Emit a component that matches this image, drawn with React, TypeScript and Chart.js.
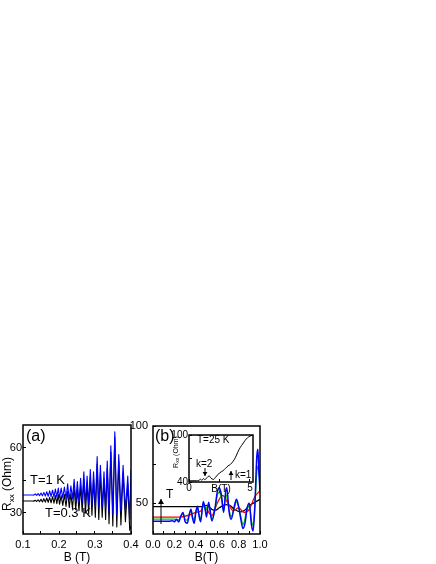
import React, { useEffect, useRef } from "react";
import { Chart, registerables } from "chart.js";
Chart.register(...registerables);

// ---------- Panel (a) data ----------
const aB = [0.100, 0.128,
  0.130, 0.134, 0.138, 0.142, 0.146, 0.150, 0.154, 0.158, 0.162, 0.166, 0.170, 0.174, 0.178, 0.182, 0.186, 0.190, 0.194, 0.198, 0.2015,
  0.2060, 0.2105, 0.2150, 0.2195, 0.2240, 0.2285, 0.2330, 0.2375, 0.2420, 0.2465, 0.2510, 0.2555, 0.2600, 0.2645, 0.2690, 0.2735,
  0.2780, 0.2825, 0.2870, 0.2915, 0.2960, 0.3010, 0.3060, 0.3105, 0.3150, 0.3200, 0.3250, 0.3295, 0.3340, 0.3390, 0.3440, 0.3495,
  0.3550, 0.3605, 0.3660, 0.3720, 0.3780, 0.3845, 0.3910, 0.3965, 0.4000];
const aBlue = [38.3, 38.3,
  38.2, 38.8, 38.1, 39.0, 38.0, 39.2, 37.9, 39.5, 37.8, 39.8, 37.7, 40.2, 37.6, 40.5, 37.4, 41.0, 37.3, 41.5, 37.0,
  41.5, 37.0, 42.0, 36.5, 43.5, 36.0, 42.5, 36.5, 45.5, 35.5, 44.5, 35.0, 46.0, 35.0, 49.0, 34.0,
  47.0, 34.0, 50.0, 33.5, 49.0, 33.0, 56.0, 32.5, 52.0, 33.0, 49.0, 32.0, 54.0, 30.0, 61.0, 29.5,
  67.5, 29.0, 57.0, 31.0, 52.0, 31.5, 47.0, 27.0, 50.0];
const aBlack = [35.5, 35.5,
  35.4, 35.9, 35.3, 36.1, 35.2, 36.3, 35.1, 36.6, 35.0, 36.9, 34.9, 37.2, 34.7, 37.5, 34.5, 38.0, 34.3, 38.5, 34.0,
  38.0, 33.5, 38.5, 33.0, 40.0, 32.5, 39.0, 32.0, 42.0, 31.5, 41.0, 31.0, 42.5, 30.5, 45.5, 30.0,
  43.5, 29.5, 46.5, 29.0, 45.5, 28.0, 52.5, 27.0, 48.5, 28.0, 45.5, 27.0, 50.5, 25.0, 58.0, 24.0,
  65.0, 23.5, 54.0, 24.5, 48.5, 26.0, 43.5, 22.0, 24.0];
const aXTicks = [0.1, 0.15, 0.2, 0.25, 0.3, 0.35, 0.4];
const aXLabels = ["0.1", "", "0.2", "", "0.3", "", "0.4"];
const aYTicks = [30, 45, 60];
const aYLabels = ["30", "", "60"];

// ---------- Panel (b) data ----------
const bBlueB = [0.00, 0.15, 0.18, 0.20, 0.22, 0.24, 0.26, 0.28, 0.30, 0.32, 0.34, 0.355, 0.37, 0.385, 0.40, 0.415, 0.43, 0.445,
  0.47, 0.49, 0.50, 0.52, 0.55, 0.58, 0.60, 0.62, 0.64, 0.66, 0.68, 0.69, 0.71, 0.73, 0.76, 0.78, 0.80, 0.82, 0.84, 0.86,
  0.88, 0.90, 0.92, 0.935, 0.95, 0.97, 0.98, 0.99, 1.00];
const bBlueR = [38.3, 38.3, 38.6, 38.0, 39.5, 37.8, 41.5, 44.0, 38.0, 37.0, 43.0, 46.0, 40.0, 37.0, 44.0, 48.0, 42.0, 38.0,
  51.0, 45.0, 41.0, 50.5, 38.5, 47.0, 57.0, 60.0, 55.0, 44.0, 58.0, 60.0, 45.0, 39.5, 48.0, 52.5, 48.0, 40.0, 33.5, 37.0,
  47.0, 50.0, 36.0, 32.0, 45.0, 80.0, 85.0, 70.0, 58.0];
const bGreenB = [0.00, 0.20, 0.24, 0.26, 0.28, 0.30, 0.32, 0.34, 0.355, 0.37, 0.385, 0.40, 0.415, 0.43, 0.445, 0.47, 0.49,
  0.52, 0.55, 0.58, 0.60, 0.62, 0.64, 0.66, 0.68, 0.71, 0.73, 0.76, 0.78, 0.82, 0.84, 0.88, 0.90, 0.92, 0.935, 0.95, 0.97, 0.98, 1.00];
const bGreenR = [39.6, 39.6, 39.2, 41.5, 43.0, 39.5, 39.0, 43.0, 45.5, 41.0, 39.0, 44.0, 47.0, 42.5, 39.5, 50.0, 45.5,
  49.5, 40.0, 46.0, 55.0, 57.0, 53.0, 45.0, 56.0, 46.0, 41.0, 47.0, 51.0, 41.5, 36.0, 46.0, 48.5, 38.5, 35.5, 46.0, 70.0, 74.0, 63.0];
const bRedB = [0.00, 0.25, 0.30, 0.35, 0.40, 0.45, 0.47, 0.50, 0.55, 0.60, 0.65, 0.70, 0.75, 0.80, 0.85, 0.90, 0.95, 1.00];
const bRedR = [41.0, 41.0, 41.5, 42.5, 44.0, 45.0, 48.0, 46.0, 42.0, 50.0, 55.0, 50.0, 45.0, 47.0, 44.0, 46.0, 54.0, 58.0];
const bBlackB = [0.00, 0.45, 0.50, 0.55, 0.58, 0.62, 0.68, 0.72, 0.76, 0.82, 0.86, 0.90, 0.95, 1.00];
const bBlackR = [47.7, 47.7, 48.5, 46.0, 45.3, 47.0, 49.0, 48.5, 46.0, 44.3, 45.5, 48.5, 50.5, 52.5];
const bXTicks = [0, 0.1, 0.2, 0.3, 0.4, 0.5, 0.6, 0.7, 0.8, 0.9, 1.0];
const bXLabels = ["0.0", "", "0.2", "", "0.4", "", "0.6", "", "0.8", "", "1.0"];
const bYTicks = [50, 75, 100];
const bYLabels = ["50", "", "100"];

// ---------- Inset data ----------
const inB = [0.05, 0.6, 0.8, 0.95, 1.05, 1.2, 1.3, 1.5, 1.65, 1.8, 2.0, 2.2, 2.5, 2.8, 3.0, 3.2, 3.4, 3.6, 3.8, 4.0, 4.2, 4.4, 4.6, 4.8, 5.0, 5.2];
const inR = [41.5, 41.6, 42.0, 43.5, 42.2, 44.5, 43.0, 46.0, 47.8, 45.0, 43.2, 46.5, 51.5, 54.5, 57.5, 60.5, 62.5, 66.0, 71.0, 78.0, 84.0, 88.5, 93.0, 96.5, 98.5, 100];
const inXTicks = [0, 2.5, 5];
const inXLabels = ["0", "", "5"];
const inYTicks = [40, 70, 100];
const inYLabels = ["40", "", "100"];

const FONT = '"Liberation Sans", Arial, Helvetica, sans-serif';

function pts(xs: number[], ys: number[]) {
  return xs.map((x, i) => ({ x, y: ys[i] }));
}

function drawRxx(ctx: CanvasRenderingContext2D, cx: number, cy: number, size: number, sub: number) {
  ctx.save();
  ctx.translate(cx, cy);
  ctx.rotate(-Math.PI / 2);
  ctx.fillStyle = "#000";
  ctx.textBaseline = "middle";
  ctx.textAlign = "left";
  const f1 = `${size}px ${FONT}`;
  const f2 = `${sub}px ${FONT}`;
  ctx.font = f1;
  const wR = ctx.measureText("R").width;
  const wO = ctx.measureText(" (Ohm)").width;
  ctx.font = f2;
  const wS = ctx.measureText("xx").width;
  let x = -(wR + wS + wO) / 2;
  ctx.font = f1;
  ctx.fillText("R", x, 0);
  x += wR;
  ctx.font = f2;
  ctx.fillText("xx", x, size * 0.3);
  x += wS;
  ctx.font = f1;
  ctx.fillText(" (Ohm)", x, 0);
  ctx.restore();
}

type Txt = { t: string; x: number; y: number; size: number };
type Arrow = { x: number; y1: number; y2: number; head: number };

function framePlugin(texts: Txt[], arrows: Arrow[], rxx: null | { x: number; y: number; size: number; sub: number }, fillWhite: boolean) {
  return {
    id: "frame",
    beforeDraw(chart: any) {
      if (!fillWhite) return;
      const { ctx, chartArea: a } = chart;
      ctx.save();
      ctx.fillStyle = "#fff";
      ctx.fillRect(a.left, a.top, a.right - a.left, a.bottom - a.top);
      ctx.restore();
    },
    afterDraw(chart: any) {
      const { ctx, chartArea: a } = chart;
      ctx.save();
      ctx.strokeStyle = "#000";
      ctx.lineWidth = 1.5;
      ctx.strokeRect(a.left, a.top, a.right - a.left, a.bottom - a.top);
      ctx.fillStyle = "#000";
      ctx.textBaseline = "middle";
      ctx.textAlign = "left";
      for (const t of texts) {
        ctx.font = `${t.size}px ${FONT}`;
        ctx.fillText(t.t, t.x, t.y);
      }
      ctx.lineWidth = 1;
      for (const ar of arrows) {
        ctx.beginPath();
        ctx.moveTo(ar.x, ar.y1);
        ctx.lineTo(ar.x, ar.y2);
        ctx.stroke();
        const dir = ar.y2 < ar.y1 ? 1 : -1;
        ctx.beginPath();
        ctx.moveTo(ar.x, ar.y2);
        ctx.lineTo(ar.x - ar.head * 0.6, ar.y2 + dir * ar.head);
        ctx.lineTo(ar.x + ar.head * 0.6, ar.y2 + dir * ar.head);
        ctx.closePath();
        ctx.fill();
      }
      if (rxx) drawRxx(ctx, rxx.x, rxx.y, rxx.size, rxx.sub);
      ctx.restore();
    },
  };
}

function axis(opts: {
  min: number; max: number; ticks: number[]; labels: string[]; size: number; fontSize: number; pad: number;
  title?: string; titleSize?: number; titlePad?: number; horizontal: boolean;
}) {
  return {
    type: "linear",
    min: opts.min,
    max: opts.max,
    afterBuildTicks: (s: any) => {
      s.ticks = opts.ticks.map((v) => ({ value: v }));
    },
    afterFit: (s: any) => {
      if (opts.horizontal) s.height = opts.size;
      else s.width = opts.size;
    },
    ticks: {
      autoSkip: false,
      maxRotation: 0,
      minRotation: 0,
      padding: opts.pad,
      color: "#000",
      font: { family: FONT, size: opts.fontSize },
      callback: (v: number) => {
        const i = opts.ticks.findIndex((t) => Math.abs(t - v) < 1e-9);
        return i >= 0 ? opts.labels[i] : "";
      },
    },
    grid: { drawOnChartArea: false, drawTicks: true, tickLength: -3, color: "#000", tickWidth: 1 },
    border: { display: false },
    title: opts.title
      ? {
          display: true,
          text: opts.title,
          color: "#000",
          font: { family: FONT, size: opts.titleSize, lineHeight: 1 },
          padding: { top: 0, bottom: opts.titlePad ?? 0 },
        }
      : { display: false },
  };
}

function line(xs: number[], ys: number[], color: string, width: number, smooth: boolean) {
  return {
    data: pts(xs, ys),
    borderColor: color,
    backgroundColor: color,
    borderWidth: width,
    pointRadius: 0,
    fill: false,
    tension: 0,
    cubicInterpolationMode: smooth ? "monotone" : "default",
    borderJoinStyle: "round",
  };
}

function Panel(props: { left: number; top: number; width: number; height: number; make: (c: HTMLCanvasElement) => Chart }) {
  const ref = useRef<HTMLCanvasElement>(null);
  useEffect(() => {
    const c = ref.current!;
    const chart = props.make(c);
    return () => chart.destroy();
  }, []);
  return (
    <canvas
      ref={ref}
      width={props.width}
      height={props.height}
      style={{ position: "absolute", left: props.left, top: props.top, width: props.width, height: props.height }}
    />
  );
}

const common = {
  animation: false,
  responsive: false,
  maintainAspectRatio: false,
  events: [],
  plugins: { legend: { display: false }, tooltip: { enabled: false } },
};

function makeA(c: HTMLCanvasElement) {
  return new Chart(c, {
    type: "line",
    data: { datasets: [line(aB, aBlue, "#0000ff", 1.1, false), line(aB, aBlack, "#000000", 1.1, false)] as any },
    options: {
      ...common,
      layout: { padding: { left: 0, top: 25, right: 19, bottom: 0 } },
      scales: {
        x: axis({ min: 0.1, max: 0.4, ticks: aXTicks, labels: aXLabels, size: 30, fontSize: 11, pad: 7, title: "B (T)", titleSize: 12, horizontal: true }),
        y: axis({ min: 20.3, max: 70.6, ticks: aYTicks, labels: aYLabels, size: 23, fontSize: 11, pad: 4, horizontal: false }),
      },
    } as any,
    plugins: [
      framePlugin(
        [
          { t: "(a)", x: 26, y: 37, size: 16 },
          { t: "T=1 K", x: 30, y: 80, size: 13 },
          { t: "T=0.3 K", x: 45, y: 113, size: 13 },
        ],
        [],
        { x: 8, y: 84, size: 12, sub: 8 },
        false
      ),
    ],
  });
}

function makeB(c: HTMLCanvasElement) {
  return new Chart(c, {
    type: "line",
    data: {
      datasets: [
        line(bBlueB, bBlueR, "#0000ff", 1.5, true),
        line(bGreenB, bGreenR, "#00cc00", 1.3, true),
        line(bRedB, bRedR, "#ff0000", 1.3, true),
        line(bBlackB, bBlackR, "#000000", 1.3, true),
      ] as any,
    },
    options: {
      ...common,
      layout: { padding: { left: 0, top: 26, right: 15, bottom: 0 } },
      scales: {
        x: axis({ min: 0, max: 1, ticks: bXTicks, labels: bXLabels, size: 30, fontSize: 11, pad: 7, title: "B(T)", titleSize: 12, horizontal: true }),
        y: axis({ min: 30, max: 100, ticks: bYTicks, labels: bYLabels, size: 28, fontSize: 11, pad: 8, horizontal: false }),
      },
    } as any,
    plugins: [
      framePlugin(
        [
          { t: "(b)", x: 30, y: 37, size: 16 },
          { t: "T", x: 41, y: 95, size: 12 },
        ],
        [{ x: 36, y1: 124, y2: 99, head: 5 }],
        null,
        false
      ),
    ],
  });
}

function makeInset(c: HTMLCanvasElement) {
  return new Chart(c, {
    type: "line",
    data: { datasets: [line(inB, inR, "#000000", 1, true)] as any },
    options: {
      ...common,
      layout: { padding: { left: 0, top: 8, right: 7, bottom: 0 } },
      scales: {
        x: axis({ min: 0, max: 5.25, ticks: inXTicks, labels: inXLabels, size: 18, fontSize: 10, pad: 3, title: "B(T)", titleSize: 10, titlePad: 6, horizontal: true }),
        y: axis({ min: 40, max: 100, ticks: inYTicks, labels: inYLabels, size: 29, fontSize: 10, pad: 4, horizontal: false }),
      },
    } as any,
    plugins: [
      framePlugin(
        [
          { t: "T=25 K", x: 37, y: 15, size: 10 },
          { t: "k=2", x: 36, y: 39, size: 10 },
          { t: "k=1", x: 75, y: 50, size: 10 },
        ],
        [
          { x: 45, y1: 43, y2: 51, head: 4 },
          { x: 71, y1: 55, y2: 46, head: 4 },
        ],
        { x: 16, y: 27, size: 7, sub: 5 },
        true
      ),
    ],
  });
}

export default function App() {
  return (
    <div style={{ position: "absolute", left: 0, top: 0, width: 436, height: 564, background: "#fff", overflow: "hidden" }}>
      <Panel left={0} top={400} width={150} height={164} make={makeA} />
      <Panel left={125} top={400} width={150} height={164} make={makeB} />
      <Panel left={160} top={425} width={100} height={75} make={makeInset} />
    </div>
  );
}
